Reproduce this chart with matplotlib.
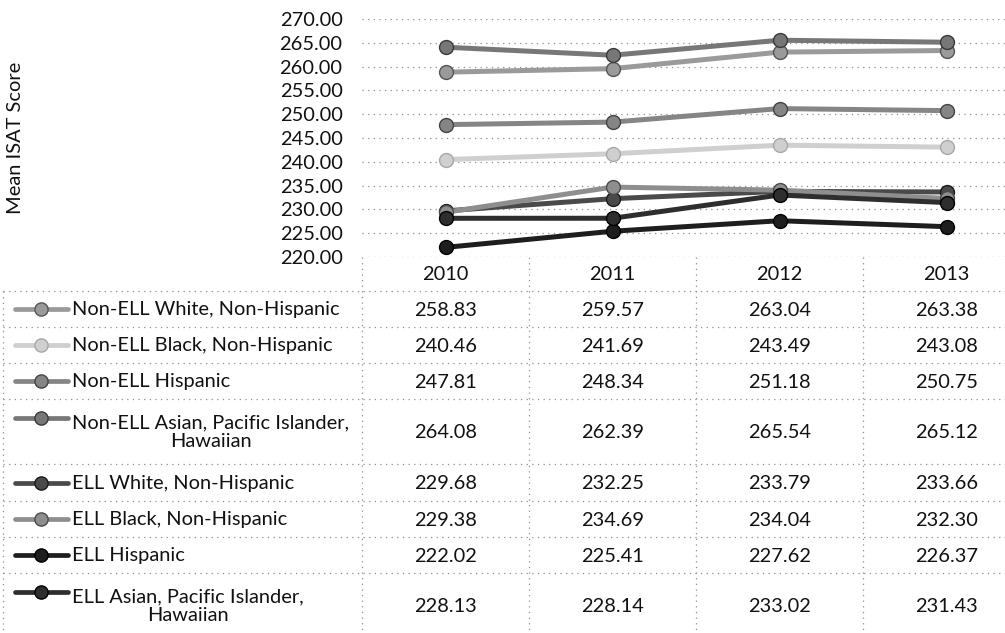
import matplotlib
matplotlib.use('Agg')
import matplotlib.pyplot as plt

# ---------------- data ----------------
years = ['2010', '2011', '2012', '2013']
series_names = [
    'Non-ELL White, Non-Hispanic',
    'Non-ELL Black, Non-Hispanic',
    'Non-ELL Hispanic',
    'Non-ELL Asian, Pacific Islander,\nHawaiian',
    'ELL White, Non-Hispanic',
    'ELL Black, Non-Hispanic',
    'ELL Hispanic',
    'ELL Asian, Pacific Islander,\nHawaiian',
]
non_ell_white = [258.83, 259.57, 263.04, 263.38]
non_ell_black = [240.46, 241.69, 243.49, 243.08]
non_ell_hispanic = [247.81, 248.34, 251.18, 250.75]
non_ell_asian = [264.08, 262.39, 265.54, 265.12]
ell_white = [229.68, 232.25, 233.79, 233.66]
ell_black = [229.38, 234.69, 234.04, 232.30]
ell_hispanic = [222.02, 225.41, 227.62, 226.37]
ell_asian = [228.13, 228.14, 233.02, 231.43]
series_values = [non_ell_white, non_ell_black, non_ell_hispanic, non_ell_asian,
                 ell_white, ell_black, ell_hispanic, ell_asian]
y_ticks = [220, 225, 230, 235, 240, 245, 250, 255, 260, 265, 270]
y_label = 'Mean ISAT Score'

# ---------------- styles ----------------
line_colors = ['#9a9a9a', '#cfcfcf', '#858585', '#777777',
               '#4a4a4a', '#8e8e8e', '#1e1e1e', '#2e2e2e']
edge_colors = ['#555555', '#a8a8a8', '#444444', '#3a3a3a',
               '#1a1a1a', '#4a4a4a', '#000000', '#000000']
FONT = 'Lato'
FS = 14.4
plt.rcParams['font.family'] = [FONT, 'DejaVu Sans']

W, H = 1005, 633
fig = plt.figure(figsize=(W / 100, H / 100), dpi=100)

col_w = 167.0
plot_left, plot_top, plot_bottom = 362, 19, 257

# ---------------- table (pixel coordinates) ----------------
tax = fig.add_axes([0, 0, 1, 1])
tax.set_xlim(0, W)
tax.set_ylim(H, 0)
tax.axis('off')

grid_kw = dict(color='#8f8f8f', lw=0.9, linestyle=(0, (1, 3.5)))
header_top, header_bottom = plot_bottom, 291
row_heights = [36, 36, 36, 65, 37, 36, 36, 65]
row_edges = [header_bottom]
for h in row_heights:
    row_edges.append(row_edges[-1] + h)

# horizontal lines
for y in row_edges[:-1]:
    tax.plot([3, W], [y, y], **grid_kw)
# vertical lines
tax.plot([3, 3], [header_bottom, H], **grid_kw)
for i in range(4):
    x = plot_left + col_w * i
    tax.plot([x, x], [header_top, H], **grid_kw)

col_centers = [plot_left + col_w * (i + 0.5) for i in range(4)]
for i, yr in enumerate(years):
    tax.text(col_centers[i], (header_top + header_bottom) / 2 + 1, yr,
             ha='center', va='center', fontsize=FS, color='#111111')

for r, (name, vals) in enumerate(zip(series_names, series_values)):
    y0, y1 = row_edges[r], row_edges[r + 1]
    yc = (y0 + y1) / 2
    nlines = name.count('\n') + 1
    ymark = yc - 13.5 * (nlines - 1)
    # legend key
    tax.plot([15, 68], [ymark, ymark], color=line_colors[r], lw=3.4,
             solid_capstyle='round')
    tax.plot([41], [ymark], marker='o', ms=9.5, color=line_colors[r],
             mec=edge_colors[r], mew=1.0)
    tax.text(72, yc + 1, name, ha='left', va='center', fontsize=FS,
             multialignment='center', color='#111111', linespacing=1.12)
    for i, v in enumerate(vals):
        tax.text(col_centers[i], yc + 1, f'{v:.2f}', ha='center', va='center',
                 fontsize=FS, color='#111111')

# ---------------- line chart ----------------
ax = fig.add_axes([plot_left / W, 1 - plot_bottom / H,
                   (W - plot_left) / W, (plot_bottom - plot_top) / H])
ax.patch.set_alpha(0)
ax.set_ylim(y_ticks[0], y_ticks[-1])
ax.set_xlim(-0.5, -0.5 + (W - plot_left) / col_w)
ax.set_yticks(y_ticks)
ax.set_yticklabels([f'{v:.2f}' for v in y_ticks], fontsize=FS, color='#111111')
ax.tick_params(axis='y', length=0, pad=14)
ax.set_xticks([])
for s in ax.spines.values():
    s.set_visible(False)
for t in y_ticks:
    ax.axhline(t, zorder=0, **grid_kw)

xs = list(range(len(years)))
for r, vals in enumerate(series_values):
    ax.plot(xs, vals, color=line_colors[r], lw=3.6, marker='o', ms=10,
            mec=edge_colors[r], mew=1.0, zorder=2 + r, clip_on=False,
            solid_capstyle='round')

fig.text(16 / W, 1 - 138 / H, y_label, rotation=90, ha='center', va='center',
         fontsize=FS, color='#111111')

fig.savefig('out.png', dpi=100)
